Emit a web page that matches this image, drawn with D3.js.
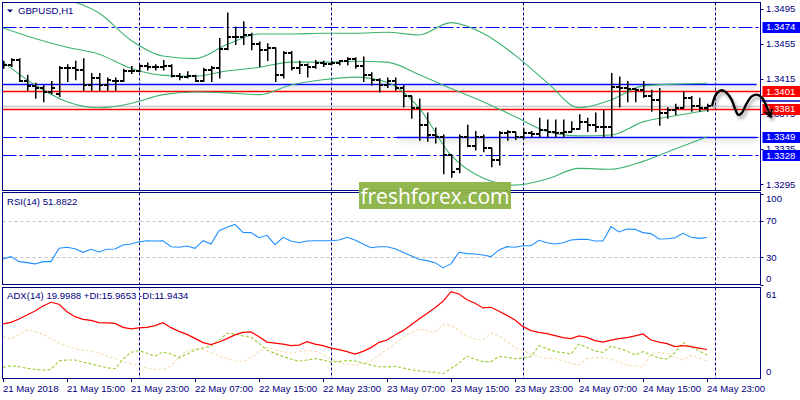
<!DOCTYPE html>
<html><head><meta charset="utf-8">
<script src="https://cdn.jsdelivr.net/npm/d3@7"></script>
<style>
body{margin:0;background:#fff;}
svg{display:block;font-family:"Liberation Sans",Arial,sans-serif;}
</style></head><body>
<svg id="c" width="800" height="400"></svg>
<script>
// ---------- data ----------
const symbol = "GBPUSD,H1";
const timeLabels = ["21 May 2018","21 May 15:00","21 May 23:00","22 May 07:00","22 May 15:00","22 May 23:00","23 May 07:00","23 May 15:00","23 May 23:00","24 May 07:00","24 May 15:00","24 May 23:00"];
const labelStep = 8;            // one time label every 8 hourly bars
const daySeparators = [17, 41, 65, 89];

const open = [1.3432,1.3431,1.3437,1.3412,1.3407,1.3404,1.3400,1.3398,1.3427,1.3427,
 1.3425,1.3408,1.3416,1.3408,1.3412,1.3412,1.3424,1.3424,1.3430,1.3429,
 1.3429,1.3430,1.3418,1.3417,1.3418,1.3413,1.3425,1.3427,1.3449,1.3463,
 1.3463,1.3465,1.3455,1.3448,1.3450,1.3419,1.3444,1.3427,1.3431,1.3429,
 1.3433,1.3432,1.3433,1.3435,1.3438,1.3430,1.3419,1.3414,1.3408,1.3413,
 1.3404,1.3395,1.3382,1.3362,1.3351,1.3349,1.3328,1.3312,1.3349,1.3338,
 1.3349,1.3336,1.3323,1.3353,1.3354,1.3349,1.3353,1.3352,1.3357,1.3355,
 1.3353,1.3355,1.3358,1.3366,1.3362,1.3360,1.3360,1.3406,1.3405,1.3403,
 1.3402,1.3395,1.3391,1.3376,1.3379,1.3382,1.3393,1.3384,1.3382];
const high = [1.3435,1.3438,1.3438,1.3419,1.3410,1.3407,1.3412,1.3429,1.3431,1.3435,
 1.3438,1.3421,1.3421,1.3416,1.3416,1.3426,1.3429,1.3431,1.3433,1.3431,
 1.3436,1.3431,1.3421,1.3423,1.3419,1.3427,1.3429,1.3461,1.3490,1.3474,
 1.3480,1.3467,1.3457,1.3455,1.3450,1.3446,1.3446,1.3435,1.3432,1.3436,
 1.3435,1.3435,1.3436,1.3439,1.3439,1.3440,1.3422,1.3415,1.3416,1.3416,
 1.3407,1.3395,1.3392,1.3376,1.3359,1.3351,1.3328,1.3351,1.3362,1.3355,
 1.3351,1.3336,1.3355,1.3356,1.3354,1.3358,1.3355,1.3370,1.3368,1.3368,
 1.3368,1.3366,1.3374,1.3370,1.3376,1.3379,1.3421,1.3417,1.3412,1.3404,
 1.3412,1.3402,1.3404,1.3382,1.3386,1.3400,1.3395,1.3393,1.3386];
const low = [1.3427,1.3429,1.3412,1.3402,1.3393,1.3389,1.3398,1.3395,1.3412,1.3414,
 1.3402,1.3402,1.3402,1.3402,1.3402,1.3412,1.3421,1.3423,1.3425,1.3425,
 1.3425,1.3417,1.3414,1.3416,1.3412,1.3412,1.3412,1.3416,1.3448,1.3454,
 1.3454,1.3448,1.3429,1.3436,1.3412,1.3416,1.3425,1.3421,1.3417,1.3427,
 1.3429,1.3431,1.3431,1.3431,1.3427,1.3412,1.3408,1.3400,1.3405,1.3402,
 1.3383,1.3370,1.3345,1.3344,1.3342,1.3307,1.3303,1.3308,1.3338,1.3334,
 1.3332,1.3315,1.3317,1.3345,1.3346,1.3347,1.3349,1.3349,1.3349,1.3349,
 1.3349,1.3355,1.3358,1.3355,1.3355,1.3349,1.3349,1.3383,1.3389,1.3389,
 1.3394,1.3378,1.3362,1.3370,1.3374,1.3382,1.3378,1.3378,1.3378];
const close = [1.3431,1.3437,1.3412,1.3407,1.3404,1.3400,1.3405,1.3427,1.3427,1.3425,
 1.3408,1.3416,1.3408,1.3414,1.3412,1.3424,1.3424,1.3430,1.3429,1.3429,
 1.3430,1.3418,1.3417,1.3418,1.3413,1.3425,1.3427,1.3449,1.3463,1.3463,
 1.3465,1.3455,1.3448,1.3450,1.3419,1.3444,1.3427,1.3431,1.3429,1.3433,
 1.3432,1.3433,1.3435,1.3438,1.3430,1.3419,1.3414,1.3408,1.3413,1.3404,
 1.3395,1.3382,1.3362,1.3351,1.3349,1.3328,1.3309,1.3349,1.3338,1.3349,
 1.3336,1.3323,1.3353,1.3354,1.3349,1.3353,1.3352,1.3357,1.3355,1.3353,
 1.3355,1.3358,1.3366,1.3362,1.3360,1.3360,1.3406,1.3405,1.3403,1.3402,
 1.3395,1.3391,1.3376,1.3379,1.3382,1.3393,1.3384,1.3382,1.3384];

// Bollinger bands read every 4 bars
const bbIdx = [0,4,8,12,16,20,24,28,32,36,40,44,48,52,56,60,64,68,72,76,80,84,88];
const bbUpper = [1.3539,1.3521,1.3506,1.3490,1.3459,1.3441,1.3438,1.3454,1.3466,1.3466,1.3467,1.3467,1.3468,1.3465,1.3479,1.3467,1.3442,1.3411,1.3382,1.3391,1.3407,1.3409,1.3410];
const bbMiddle = [1.3473,1.3461,1.3451,1.3443,1.3427,1.3419,1.3418,1.3424,1.3428,1.3434,1.3434,1.3435,1.3434,1.3420,1.3404,1.3389,1.3372,1.3355,1.3350,1.3351,1.3366,1.3373,1.3379];
const bbLower = [1.3434,1.3408,1.3389,1.3382,1.3387,1.3397,1.3400,1.3399,1.3397,1.3408,1.3414,1.3417,1.3411,1.3382,1.3328,1.3302,1.3294,1.3301,1.3313,1.3312,1.3321,1.3335,1.3349];

// horizontal levels
const dashDotLevels = [1.3474, 1.3349, 1.3328];
const redLevels = [1.3401, 1.3381];
const blueLevels = [1.3409, 1.3349];
const blueLevelStart = [-1, 49.25];
const blueLevelEnd = 94.2;
const blueTags = [1.3474, 1.3349, 1.3328];
const redTags = [1.3401, 1.3381];
const priceTicks = [1.3495, 1.3455, 1.3415, 1.3375, 1.3335, 1.3295];

// forecast sketch (bar index, price)
const fcIdx = [88.66,89.0,89.41,89.84,90.46,91.09,91.5,91.91,92.34,92.96,93.59,94.21,94.84,95.38,95.79,95.96];
const fcPrice = [1.3385,1.3395,1.3400,1.3402,1.3399,1.3391,1.3381,1.3374,1.3376,1.3387,1.3395,1.3397,1.3394,1.3385,1.3376,1.3372];

// RSI(14)
const rsi = [28.2,30.7,25.2,24.1,22.7,25.2,25.2,39.9,41.0,39.5,
 35.5,38.8,35.9,38.8,39.2,43.6,44.7,47.2,48.3,48.0,
 48.3,41.7,41.0,42.5,39.9,48.3,44.7,59.4,63.0,66.3,
 57.5,57.2,51.6,54.2,43.9,52.0,48.0,46.1,48.0,48.3,
 48.3,48.3,49.1,52.0,49.1,44.7,40.6,41.7,41.7,39.5,
 35.5,31.8,27.8,26.3,24.1,18.6,22.7,35.5,34.0,33.7,
 32.6,30.7,38.1,41.7,41.0,42.8,42.8,48.7,46.1,44.7,
 46.1,49.1,49.8,49.8,48.0,48.0,63.8,57.9,61.2,60.8,
 57.2,56.1,50.2,50.5,51.6,56.4,52.0,50.9,51.9];
const rsiLevels = [70, 30];
const rsiTicks = [100, 70, 30, 0];

// ADX(14)
const adx = [37.9,39.0,41.4,44.2,47.0,50.5,53.1,51.7,46.5,43.0,
 41.1,40.4,38.8,38.6,38.3,35.5,34.4,35.1,35.5,36.7,
 38.8,35.3,32.7,30.6,27.8,24.8,23.4,25.2,27.6,30.2,
 32.0,32.3,29.0,25.2,24.5,23.8,22.7,23.1,25.5,23.8,
 22.7,21.0,19.9,18.5,16.8,18.7,21.3,25.0,26.6,30.2,
 33.2,37.2,41.4,45.3,49.3,53.8,60.6,58.9,54.9,52.4,
 49.1,49.6,46.8,43.9,40.7,36.0,33.2,32.0,31.1,29.7,
 28.3,27.6,29.5,28.5,26.2,25.2,26.6,27.6,28.3,29.5,
 30.9,26.6,25.2,24.1,22.0,22.7,22.0,21.0,20.0];
const plusDI = [7.5,8.6,7.9,6.8,6.1,5.4,6.1,11.9,12.6,12.6,
 11.2,9.8,8.6,7.2,6.5,13.1,18.0,19.2,17.3,15.4,
 18.2,16.8,14.3,16.8,19.6,21.0,22.4,26.6,31.3,30.9,
 29.5,28.5,24.3,19.6,17.3,15.0,13.3,11.7,12.6,13.6,
 12.6,11.2,11.5,12.2,11.9,10.5,9.1,7.9,7.7,8.2,
 7.0,5.8,5.1,4.4,4.0,3.0,6.8,10.3,15.4,13.1,
 11.5,11.5,15.2,14.5,13.6,14.0,15.0,22.7,20.6,18.5,
 17.8,16.8,23.8,21.3,18.9,18.0,22.4,20.8,18.9,16.1,
 18.5,16.1,14.0,13.3,17.8,24.8,21.5,19.2,16.0];
const minusDI = [29.0,27.1,30.6,33.7,32.7,30.6,27.6,24.3,22.4,20.6,
 19.6,18.7,17.3,15.4,13.8,11.7,9.8,8.4,7.0,6.1,
 6.1,8.6,14.5,19.2,20.6,20.1,17.8,15.4,13.6,11.9,
 11.5,14.5,18.7,21.5,19.6,18.5,17.3,18.5,19.2,18.7,
 16.4,13.3,10.8,9.8,9.1,10.1,12.2,15.9,20.3,23.6,
 28.8,31.8,34.4,33.2,32.0,37.6,36.9,33.4,29.0,27.3,
 26.6,31.6,29.7,25.5,21.3,19.2,16.6,15.0,13.8,13.8,
 11.9,10.3,9.1,13.6,14.3,14.3,13.1,11.2,9.1,8.4,
 7.5,16.8,17.8,17.3,14.5,12.6,15.7,14.0,11.9];
const adxTicks = [61, 0];
const rsiTitle = "RSI(14) 51.8822";
const adxTitle = "ADX(14) 19.9988 +DI:15.9653 -DI:11.9434";
const watermark = "freshforex.com";

// ---------- layout ----------
const navy = "#000080";
const L = 2.5, R = 760.5;
const P = {main:[2.5,190.5], rsi:[192.5,284.5], adx:[287.5,378.5]};

const svg = d3.select("#c");
const defs = svg.append("defs");
Object.entries(P).forEach(([k,[t,b]])=>{
  defs.append("clipPath").attr("id","clip-"+k).append("rect")
    .attr("x",L+0.5).attr("y",t+0.5).attr("width",R-L-1).attr("height",b-t-1);
});
const sh = defs.append("filter").attr("id","shadow").attr("filterUnits","userSpaceOnUse")
  .attr("x",0).attr("y",0).attr("width",800).attr("height",400);
sh.append("feDropShadow").attr("dx",1).attr("dy",3).attr("stdDeviation",2).attr("flood-color","#777").attr("flood-opacity",0.45);
const sh2 = defs.append("filter").attr("id","shadow2").attr("filterUnits","userSpaceOnUse")
  .attr("x",0).attr("y",0).attr("width",800).attr("height",400);
sh2.append("feDropShadow").attr("dx",2).attr("dy",3).attr("stdDeviation",1.5).attr("flood-color","#555").attr("flood-opacity",0.5);
defs.append("marker").attr("id","arrow").attr("viewBox","0 0 10 10").attr("refX",8).attr("refY",5)
  .attr("markerWidth",4).attr("markerHeight",4).attr("orient","auto").attr("markerUnits","strokeWidth")
  .append("path").attr("d","M1,1 L8,5 L1,9").attr("fill","none").attr("stroke","#000").attr("stroke-width",2);

// scales
const x = d3.scaleLinear().domain([0, 88]).range([3, 707]);
const yP = d3.scaleLinear().domain([1.3295, 1.3495]).range([184.2, 8.6]);
const yR = d3.scaleLinear().domain([0, 100]).range([284.5, 193.8]);
const yA = d3.scaleLinear().domain([0, 61]).range([378, 291]);

const idx = d3.range(open.length);
const gMain = svg.append("g").attr("clip-path","url(#clip-main)");
const gRsi = svg.append("g").attr("clip-path","url(#clip-rsi)");
const gAdx = svg.append("g").attr("clip-path","url(#clip-adx)");

// vertical day separators
[[gMain,P.main],[gRsi,P.rsi],[gAdx,P.adx]].forEach(([g,[t,b]])=>{
  g.selectAll(null).data(daySeparators).join("line")
    .attr("x1",d=>Math.round(x(d))+0.5).attr("x2",d=>Math.round(x(d))+0.5)
    .attr("y1",t).attr("y2",b).attr("stroke",navy).attr("stroke-dasharray","3,2");
});

// main: horizontal levels
const crisp = v => Math.round(v)+0.5;
gMain.selectAll(null).data(dashDotLevels).join("line")
  .attr("x1",L).attr("x2",R).attr("y1",d=>crisp(yP(d))).attr("y2",d=>crisp(yP(d)))
  .attr("stroke","#0000ff").attr("stroke-dasharray","14,3,3,3");
gMain.append("line").attr("x1",L).attr("x2",R)
  .attr("y1",crisp(yP(close[close.length-1]))).attr("y2",crisp(yP(close[close.length-1])))
  .attr("stroke","#c8c8c8").attr("stroke-width",1.4);
gMain.selectAll(null).data(blueLevels).join("line")
  .attr("x1",(d,i)=>x(blueLevelStart[i])).attr("x2",x(blueLevelEnd))
  .attr("y1",d=>crisp(yP(d))).attr("y2",d=>crisp(yP(d)))
  .attr("stroke","#0000ff").attr("stroke-width",1.6).attr("filter","url(#shadow)");
gMain.selectAll(null).data(redLevels).join("line")
  .attr("x1",L).attr("x2",R).attr("y1",d=>crisp(yP(d))).attr("y2",d=>crisp(yP(d)))
  .attr("stroke","#ff0000").attr("stroke-width",1.3);

// Bollinger bands
const bbLine = arr => d3.line().x((d,i)=>x(bbIdx[i])).y(d=>yP(d)).curve(d3.curveMonotoneX)(arr);
[bbUpper,bbMiddle,bbLower].forEach(a=>{
  gMain.append("path").attr("d",bbLine(a)).attr("fill","none").attr("stroke","#3cb371").attr("stroke-width",1.1);
});

// OHLC bars
const bars = gMain.append("g").attr("stroke","#000");
bars.selectAll(null).data(idx).join("path")
  .attr("stroke-width",1.5)
  .attr("d",i=>{
    const cx = Math.round(x(i))+0.75;
    return `M${cx},${yP(high[i])-0.5}V${yP(low[i])+0.5}`;
  });
bars.selectAll(null).data(idx).join("path")
  .attr("stroke-width",1.5).attr("shape-rendering","crispEdges")
  .attr("d",i=>{
    const cx = Math.round(x(i))+0.75;
    const o = Math.round(yP(open[i])), c = Math.round(yP(close[i]));
    return `M${cx-3.5},${o}H${cx}M${cx},${c}H${cx+3.5}`;
  });

// forecast sketch (extends over axis)
const fc = svg.append("path")
  .attr("d", d3.line().x((d,i)=>x(fcIdx[i])).y(d=>yP(d)).curve(d3.curveCatmullRom)(fcPrice))
  .attr("fill","none").attr("stroke","#000").attr("stroke-width",2.4)
  .attr("stroke-linecap","round").attr("marker-end","url(#arrow)").attr("filter","url(#shadow2)");

// RSI
gRsi.selectAll(null).data(rsiLevels).join("line")
  .attr("x1",L).attr("x2",R).attr("y1",d=>crisp(yR(d))).attr("y2",d=>crisp(yR(d)))
  .attr("stroke","#c0c0c0").attr("stroke-dasharray","3,3");
gRsi.append("path").attr("d",d3.line().x((d,i)=>x(i)).y(d=>yR(d))(rsi))
  .attr("fill","none").attr("stroke","#1e90ff").attr("stroke-width",1.1);

// ADX
const al = arr => d3.line().x((d,i)=>x(i)).y(d=>yA(d))(arr);
gAdx.append("path").attr("d",al(minusDI)).attr("fill","none").attr("stroke","#f5deb3").attr("stroke-width",1.1).attr("stroke-dasharray","3,2");
gAdx.append("path").attr("d",al(plusDI)).attr("fill","none").attr("stroke","#9acd32").attr("stroke-width",1.1).attr("stroke-dasharray","3,2");
gAdx.append("path").attr("d",al(adx)).attr("fill","none").attr("stroke","#ff0000").attr("stroke-width",1.2);

// frames
Object.values(P).forEach(([t,b])=>{
  svg.append("rect").attr("x",L).attr("y",t).attr("width",R-L).attr("height",b-t)
    .attr("fill","none").attr("stroke",navy).attr("stroke-width",1);
});

// time axis
const tIdx = timeLabels.map((d,i)=>i*labelStep);
svg.selectAll(null).data(tIdx).join("line")
  .attr("x1",d=>Math.round(x(d))+0.5).attr("x2",d=>Math.round(x(d))+0.5)
  .attr("y1",378.5).attr("y2",382).attr("stroke",navy);
svg.selectAll(null).data(timeLabels).join("text")
  .attr("x",(d,i)=>x(tIdx[i])).attr("y",392)
  .attr("font-size",9.6).attr("fill",navy).text(d=>d);

// price axis
const axFont = 9.6;
svg.selectAll(null).data(priceTicks).join("line")
  .attr("x1",R).attr("x2",R+3).attr("y1",d=>crisp(yP(d))).attr("y2",d=>crisp(yP(d))).attr("stroke",navy);
svg.selectAll(null).data(priceTicks).join("text")
  .attr("x",766).attr("y",d=>yP(d)).attr("dy","0.35em")
  .attr("font-size",axFont).attr("fill",navy).text(d=>d.toFixed(4));
svg.append("line").attr("x1",R+1).attr("x2",800).attr("y1",101).attr("y2",101).attr("stroke","#0000cd").attr("stroke-width",1.5);

// tagged prices
const tags = blueTags.map(p=>({p,c:"#0000ff"})).concat(redTags.map(p=>({p,c:"#ff0000"})));
const tg = svg.selectAll(null).data(tags).join("g");
tg.append("rect").attr("x",R+2).attr("y",d=>Math.round(yP(d.p))-5).attr("width",800-R-2).attr("height",11).attr("fill",d=>d.c);
tg.append("text").attr("x",766).attr("y",d=>yP(d.p)).attr("dy","0.36em")
  .attr("font-size",axFont).attr("fill","#fff").text(d=>d.p.toFixed(4));
fc.raise();

// RSI / ADX axis labels
svg.selectAll(null).data(rsiTicks).join("text")
  .attr("x",766).attr("y",d=>d===100?yR(d)+5:d===0?yR(d)-6:yR(d)).attr("dy","0.35em")
  .attr("font-size",axFont).attr("fill",navy).text(d=>d);
svg.selectAll(null).data(rsiTicks).join("line")
  .attr("x1",R).attr("x2",R+3).attr("y1",d=>crisp(yR(d))).attr("y2",d=>crisp(yR(d))).attr("stroke",navy);
svg.selectAll(null).data(adxTicks).join("text")
  .attr("x",766).attr("y",d=>d===0?yA(d)-6:yA(d)+4).attr("dy","0.35em")
  .attr("font-size",axFont).attr("fill",navy).text(d=>d);

// panel titles
svg.append("path").attr("d","M7,9.5H13L10,12.5Z").attr("fill",navy);
svg.append("text").attr("x",18).attr("y",11).attr("dy","0.35em").attr("font-size",9.6).attr("fill",navy).text(symbol);
svg.append("text").attr("x",7).attr("y",201.5).attr("dy","0.35em").attr("font-size",9.6).attr("fill",navy).text(rsiTitle);
svg.append("text").attr("x",7).attr("y",296).attr("dy","0.35em").attr("font-size",9.6).attr("fill",navy).text(adxTitle);

// watermark
svg.append("rect").attr("x",359).attr("y",182).attr("width",152).attr("height",27).attr("fill","#8db346").attr("opacity",0.95);
svg.append("text").attr("x",435).attr("y",203.5).attr("text-anchor","middle")
  .attr("font-family","'Open Sans',sans-serif").attr("font-size",21).attr("fill","#fff").text(watermark);
</script>
</body></html>
